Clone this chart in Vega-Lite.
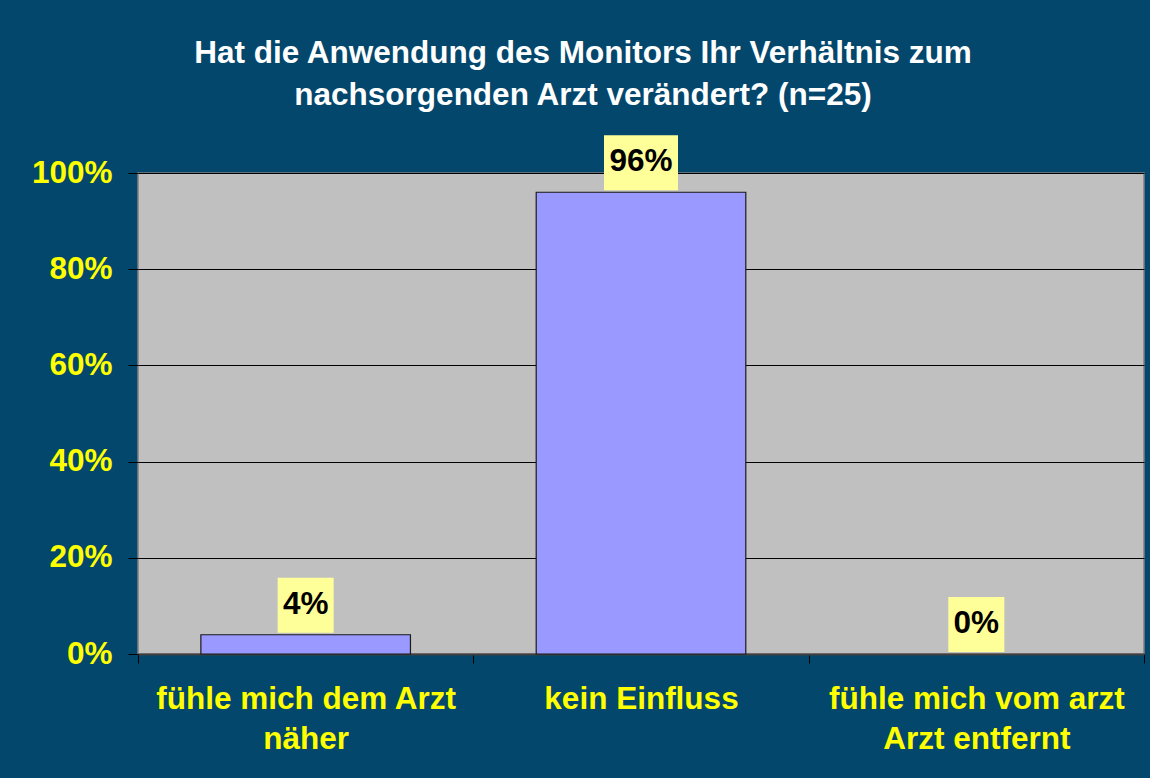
{
  "$schema": "https://vega.github.io/schema/vega-lite/v6.json",
  "width": 1006,
  "height": 481,
  "autosize": {"type": "none"},
  "padding": {"left": 138, "top": 173, "right": 6, "bottom": 124},
  "background": "#03476d",
  "title": {
    "text": ["Hat die Anwendung des Monitors Ihr Verhältnis zum", "nachsorgenden Arzt verändert? (n=25)"],
    "color": "#ffffff",
    "font": "Liberation Sans",
    "fontSize": 31.5,
    "fontWeight": "bold",
    "lineHeight": 42,
    "anchor": "middle",
    "dx": -58,
    "offset": 24
  },
  "data": {
    "values": [
      {"antwort": "fühle mich dem Arzt näher", "anteil": 0.04},
      {"antwort": "kein Einfluss", "anteil": 0.96},
      {"antwort": "fühle mich vom arzt Arzt entfernt", "anteil": 0.0}
    ]
  },
  "config": {
    "view": {"fill": "#c0c0c0", "stroke": "#808080", "strokeWidth": 1.5},
    "axis": {
      "labelFont": "Liberation Sans",
      "labelFontWeight": "bold",
      "labelColor": "#ffff00",
      "labelFontSize": 31.5,
      "labelLimit": 0,
      "tickColor": "#000000",
      "domainColor": "#404040"
    }
  },
  "encoding": {
    "x": {
      "field": "antwort",
      "type": "nominal",
      "sort": null,
      "scale": {"paddingInner": 0, "paddingOuter": 0},
      "axis": {
        "title": null,
        "labelAngle": 0,
        "labelExpr": "datum.label == 'fühle mich dem Arzt näher' ? ['fühle mich dem Arzt', 'näher'] : datum.label == 'fühle mich vom arzt Arzt entfernt' ? ['fühle mich vom arzt', 'Arzt entfernt'] : datum.label",
        "labelLineHeight": 40,
        "labelPadding": 20,
        "labelBaseline": "top",
        "tickBand": "extent",
        "tickSize": 9,
        "domainWidth": 2,
        "grid": false
      }
    },
    "y": {
      "field": "anteil",
      "type": "quantitative",
      "scale": {"domain": [0, 1], "nice": false},
      "axis": {
        "title": null,
        "format": ".0%",
        "values": [0, 0.2, 0.4, 0.6, 0.8, 1],
        "tickSize": 10,
        "labelPadding": 16,
        "domain": false,
        "grid": true,
        "gridColor": "#000000",
        "gridWidth": 1,
        "gridOpacity": 1
      }
    }
  },
  "layer": [
    {
      "transform": [{"filter": "datum.anteil > 0"}],
      "mark": {"type": "bar", "color": "#9999ff", "stroke": "#1a1a1a", "strokeWidth": 1.2, "width": {"band": 0.625}}
    },
    {
      "mark": {"type": "bar", "color": "#ffff99", "yOffset": -57, "y2Offset": -2},
      "encoding": {
        "y2": {"field": "anteil"},
        "size": {"condition": {"test": "datum.anteil >= 0.1", "value": 74}, "value": 56}
      }
    },
    {
      "mark": {"type": "text", "dy": -30, "baseline": "middle", "font": "Liberation Sans", "fontWeight": "bold", "fontSize": 31.5, "color": "#000000"},
      "encoding": {
        "text": {"field": "anteil", "type": "quantitative", "format": ".0%"}
      }
    }
  ]
}
